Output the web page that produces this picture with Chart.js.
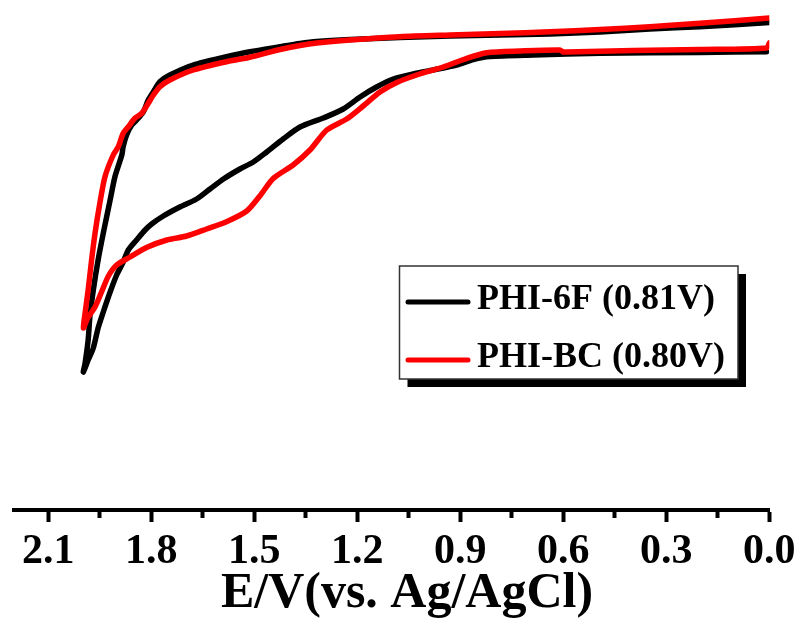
<!DOCTYPE html>
<html>
<head>
<meta charset="utf-8">
<script src="https://cdn.jsdelivr.net/npm/chart.js@4.4.1/dist/chart.umd.min.js"></script>
<style>
  html, body { margin: 0; padding: 0; background: #ffffff; }
  #wrap { width: 805px; height: 624px; }
</style>
</head>
<body>
<div id="wrap"><canvas id="cv"></canvas></div>
<script>
// Series names and colours
const seriesNames = ['PHI-6F (0.81V)', 'PHI-BC (0.80V)'];
const seriesColors = ['#000000', '#ff0000'];

// PHI-6F: potential (V vs. Ag/AgCl) and current, cathodic sweep then return sweep
const phi6fE = [
  0.000, 0.202, 0.348, 0.493, 0.639, 0.784, 0.930, 1.076, 1.221, 1.318, 1.367, 1.425,
  1.513, 1.581, 1.678, 1.746, 1.775, 1.794, 1.809, 1.823, 1.838, 1.857, 1.872, 1.882,
  1.886, 1.906, 1.920, 1.940, 1.955, 1.969, 1.979, 1.984, 1.993, 1.998,
  1.984, 1.969, 1.955, 1.940, 1.920, 1.901, 1.882, 1.867, 1.843, 1.818, 1.799, 1.765,
  1.717, 1.668, 1.629, 1.590, 1.542, 1.503, 1.464, 1.416, 1.367, 1.299, 1.241, 1.192,
  1.144, 1.095, 1.037, 0.979, 0.911, 0.862, 0.814, 0.687, 0.493, 0.202, 0.008
];
const phi6fI = [
  -0.225, -0.267, -0.290, -0.320, -0.340, -0.350, -0.360, -0.375, -0.395, -0.415, -0.435, -0.467,
  -0.517, -0.567, -0.650, -0.750, -0.817, -0.917, -1.000, -1.117, -1.183, -1.250, -1.350, -1.467,
  -1.550, -1.767, -2.000, -2.333, -2.600, -2.900, -3.167, -3.400, -3.633, -3.720,
  -3.600, -3.480, -3.280, -3.120, -2.920, -2.750, -2.620, -2.500, -2.400, -2.300, -2.240, -2.160,
  -2.070, -1.990, -1.890, -1.790, -1.690, -1.620, -1.520, -1.390, -1.270, -1.180, -1.090, -0.970,
  -0.870, -0.790, -0.740, -0.700, -0.650, -0.595, -0.565, -0.550, -0.533, -0.525, -0.517
];

// PHI-BC: potential (V vs. Ag/AgCl) and current, cathodic sweep then return sweep
const phiBcE = [
  0.000, 0.202, 0.348, 0.493, 0.639, 0.784, 0.930, 1.076, 1.221, 1.318, 1.367, 1.425,
  1.513, 1.581, 1.678, 1.746, 1.775, 1.794, 1.809, 1.828, 1.848, 1.867, 1.882, 1.896,
  1.911, 1.935, 1.950, 1.964, 1.974, 1.984, 1.993, 1.998,
  1.985, 1.964, 1.945, 1.925, 1.901, 1.862, 1.814, 1.755, 1.697, 1.639, 1.581, 1.522,
  1.484, 1.445, 1.387, 1.338, 1.289, 1.231, 1.183, 1.134, 1.085, 1.027, 0.950, 0.881,
  0.823, 0.726, 0.610, 0.600, 0.590, 0.397, 0.202, 0.008, 0.000
];
const phiBcI = [
  -0.180, -0.233, -0.267, -0.295, -0.317, -0.335, -0.350, -0.367, -0.400, -0.430, -0.455, -0.495,
  -0.573, -0.617, -0.700, -0.800, -0.867, -0.950, -1.033, -1.133, -1.183, -1.267, -1.333, -1.467,
  -1.550, -1.767, -2.033, -2.333, -2.600, -2.900, -3.133, -3.280,
  -3.180, -3.070, -2.920, -2.760, -2.650, -2.570, -2.475, -2.400, -2.360, -2.290, -2.217, -2.110,
  -1.960, -1.785, -1.650, -1.500, -1.300, -1.190, -1.060, -0.920, -0.825, -0.750, -0.670, -0.583,
  -0.527, -0.510, -0.500, -0.520, -0.520, -0.505, -0.495, -0.480, -0.430
];

// Axis ticks
const majorTicks = [2.1, 1.8, 1.5, 1.2, 0.9, 0.6, 0.3, 0.0];
const majorTickLabels = ['2.1', '1.8', '1.5', '1.2', '0.9', '0.6', '0.3', '0.0'];
const minorTicks = [1.95, 1.65, 1.35, 1.05, 0.75, 0.45, 0.15];
const axisTitle = 'E/V(vs. Ag/AgCl)';

const serif = '"Liberation Serif", "Times New Roman", serif';

function toPoints(xs, ys) {
  return xs.map((x, i) => ({ x: x, y: ys[i] }));
}
function isMinorTick(v) {
  return minorTicks.some(m => Math.abs(m - v) < 1e-6);
}

// Boxed legend with a drop shadow, drawn inside the plot
const boxedLegend = {
  id: 'boxedLegend',
  afterDraw(chart) {
    const ctx = chart.ctx;
    const bx = 399.5, by = 266, bw = 338.5, bh = 113, shadow = 8;
    ctx.save();
    ctx.fillStyle = '#000000';
    ctx.fillRect(bx + shadow, by + shadow, bw, bh);
    ctx.fillStyle = '#ffffff';
    ctx.fillRect(bx, by, bw, bh);
    ctx.lineWidth = 1.5;
    ctx.strokeStyle = '#333333';
    ctx.strokeRect(bx, by, bw, bh);
    const rows = [300, 358];
    chart.data.datasets.forEach((ds, i) => {
      const y = rows[i];
      ctx.beginPath();
      ctx.lineCap = 'round';
      ctx.lineWidth = 5;
      ctx.strokeStyle = ds.borderColor;
      ctx.moveTo(408, y + 2);
      ctx.lineTo(468, y + 2);
      ctx.stroke();
      ctx.fillStyle = '#000000';
      ctx.font = 'bold 36px ' + serif;
      ctx.textAlign = 'left';
      ctx.textBaseline = 'middle';
      ctx.fillText(ds.label, 477, y);
    });
    ctx.restore();
  }
};

// Axis title, centred under the tick labels
const axisTitlePlugin = {
  id: 'axisTitlePlugin',
  afterDraw(chart) {
    const ctx = chart.ctx;
    ctx.save();
    ctx.fillStyle = '#000000';
    ctx.font = 'bold 50px ' + serif;
    ctx.textAlign = 'center';
    ctx.textBaseline = 'middle';
    ctx.fillText(axisTitle, 407, 594);
    ctx.restore();
  }
};

new Chart(document.getElementById('cv'), {
  type: 'scatter',
  data: {
    datasets: [
      {
        label: seriesNames[0],
        data: toPoints(phi6fE, phi6fI),
        borderColor: seriesColors[0],
        backgroundColor: seriesColors[0],
        order: 2
      },
      {
        label: seriesNames[1],
        data: toPoints(phiBcE, phiBcI),
        borderColor: seriesColors[1],
        backgroundColor: seriesColors[1],
        order: 1
      }
    ]
  },
  options: {
    responsive: true,
    maintainAspectRatio: false,
    animation: false,
    devicePixelRatio: 1,
    layout: { padding: { left: 14, right: 35.7, top: 0, bottom: 0 } },
    elements: {
      line: { borderWidth: 5.5, tension: 0.25, borderCapStyle: 'round', borderJoinStyle: 'round', fill: false },
      point: { radius: 0, hoverRadius: 0 }
    },
    datasets: { scatter: { showLine: true } },
    plugins: {
      legend: { display: false },
      tooltip: { enabled: false }
    },
    scales: {
      x: {
        type: 'linear',
        position: 'bottom',
        reverse: true,
        min: 0,
        max: 2.2,
        afterBuildTicks(scale) {
          scale.ticks = majorTicks.concat(minorTicks)
            .sort((a, b) => a - b)
            .map(v => ({ value: v }));
        },
        afterFit(scale) { scale.height = 114; },
        border: { display: true, width: 4, color: '#000000' },
        grid: {
          display: true,
          drawOnChartArea: false,
          drawTicks: true,
          tickLength: 12,
          tickWidth: 4,
          tickColor: '#000000',
          tickBorderDash: (ctx) => (ctx.tick && isMinorTick(ctx.tick.value)) ? [6, 60] : []
        },
        ticks: {
          autoSkip: false,
          maxRotation: 0,
          minRotation: 0,
          padding: 5,
          color: '#000000',
          font: { family: serif, size: 42, weight: 'bold' },
          callback(value) {
            const k = majorTicks.findIndex(m => Math.abs(m - value) < 1e-6);
            return k >= 0 ? majorTickLabels[k] : '';
          }
        },
        title: { display: false }
      },
      y: {
        display: false,
        min: -5.1,
        max: 0
      }
    }
  },
  plugins: [boxedLegend, axisTitlePlugin]
});
</script>
</body>
</html>
